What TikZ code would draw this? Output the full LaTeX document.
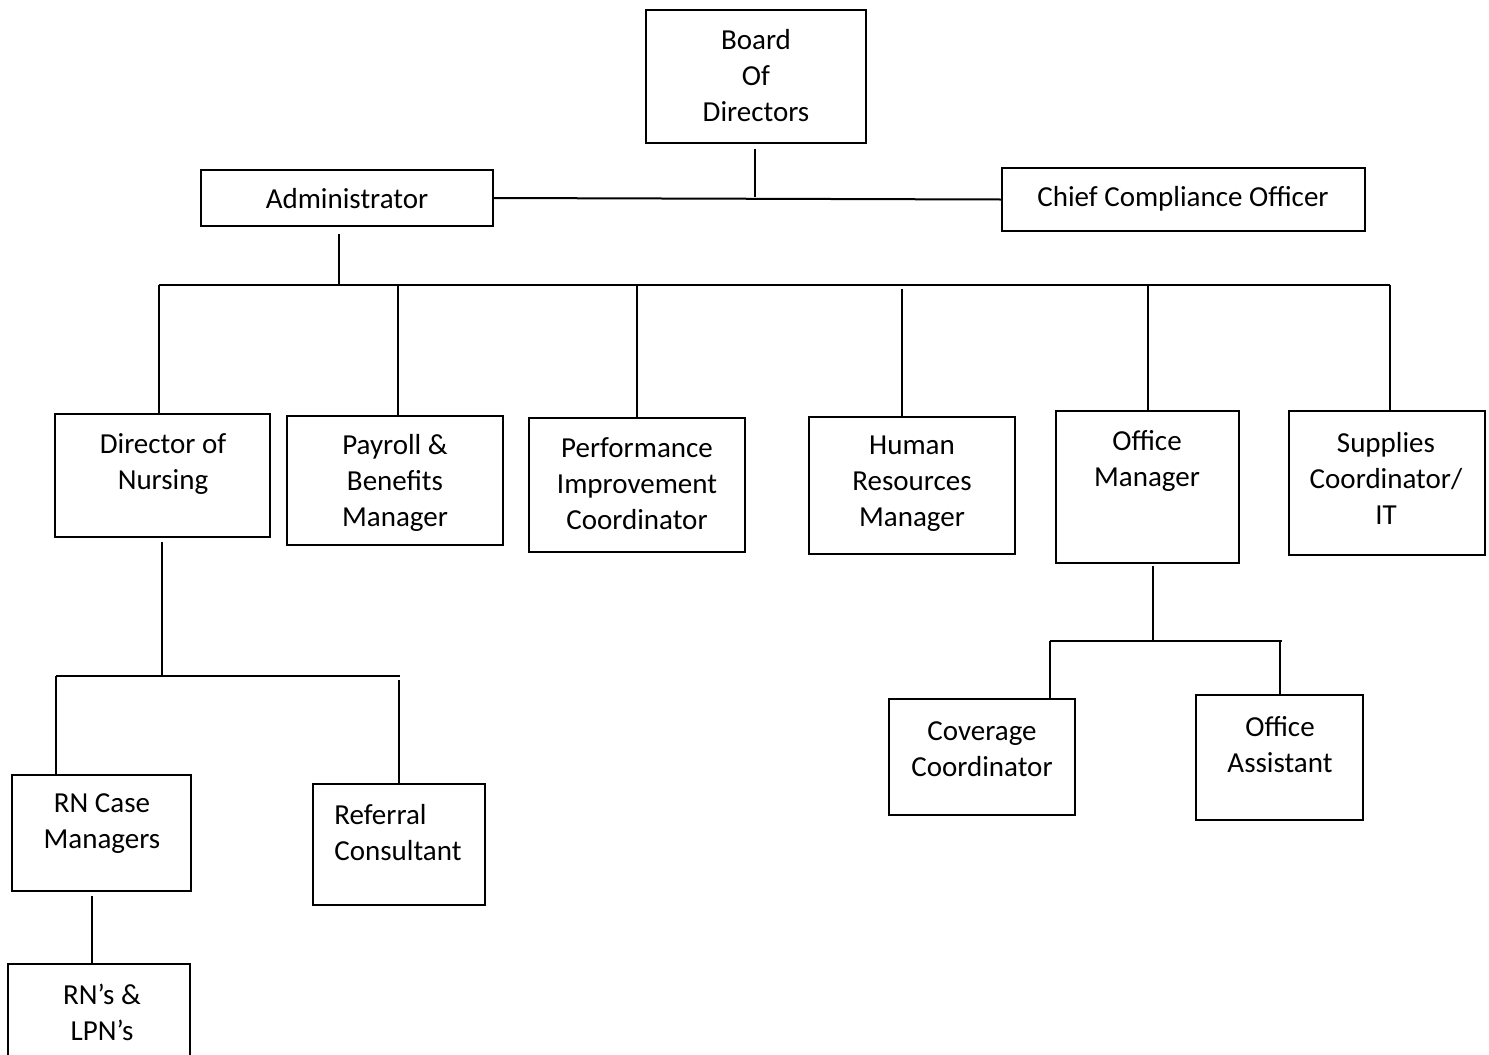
\documentclass[tikz,border=0pt]{standalone}
\usepackage{fontspec}
\setmainfont{Carlito}
\usetikzlibrary{fit}
\begin{document}
\begin{tikzpicture}[x=0.5pt,y=-0.5pt,
  box/.style={draw=black,line width=1pt,inner sep=0pt,rectangle},
  txt/.style={inner sep=0pt,align=center,font=\fontsize{14.5}{18}\selectfont},
  conn/.style={draw=black,line width=1pt}]
\useasboundingbox[fill=white] (0,0) rectangle (1489,1055);
% boxes
\node (board) [box, fit={(646,10) (866,143)}] {};
\node (admin) [box, fit={(201,170) (493,226)}] {};
\node (cco)   [box, fit={(1002,168) (1365,231)}] {};
\node (dir)   [box, fit={(55,414) (270,537)}] {};
\node (pay)   [box, fit={(287,416) (503,545)}] {};
\node (perf)  [box, fit={(529,418) (745,552)}] {};
\node (hr)    [box, fit={(809,417) (1015,554)}] {};
\node (om)    [box, fit={(1056,411) (1239,563)}] {};
\node (sup)   [box, fit={(1289,411) (1485,555)}] {};
\node (rnc)   [box, fit={(12,775) (191,891)}] {};
\node (ref)   [box, fit={(313,784) (485,905)}] {};
\node (rnl)   [box, fit={(8,964) (190,1075)}] {};
\node (cov)   [box, fit={(889,699) (1075,815)}] {};
\node (oa)    [box, fit={(1196,695) (1363,820)}] {};
% texts
\node (boardT) [txt] at (756,76) {Board\\Of\\Directors};
\node (adminT) [txt] at (347,199) {Administrator};
\node (ccoT)   [txt] at (1183,199) {Chief Compliance Officer};
\node (dirT)   [txt] at (163,464) {Director of\\Nursing};
\node (payT)   [txt] at (395,483) {Payroll \&\\Benefits\\Manager};
\node (perfT)  [txt] at (637,484) {Performance\\Improvement\\Coordinator};
\node (hrT)    [txt] at (912,484) {Human\\Resources\\Manager};
\node (omT)    [txt] at (1147,461) {Office\\Manager};
\node (supT)   [txt] at (1386,478) {Supplies\\Coordinator/\\IT};
\node (rncT)   [txt] at (102,824) {RN Case\\Managers};
\node (refT)   [txt,align=left,anchor=west] at (334,833) {Referral\\Consultant};
\node (rnlT)   [txt] at (102,1012) {RN’s \&\\LPN’s};
\node (covT)   [txt] at (982,749) {Coverage\\Coordinator};
\node (oaT)    [txt] at (1280,745) {Office\\Assistant};
% junction coordinates
\coordinate (j1) at (755,197);
\coordinate (bus) at (339,285);
\coordinate (busL) at (159,285);
\coordinate (busR) at (1390,285);
\coordinate (nbus) at (162,676);
\coordinate (nL) at (56,676);
\coordinate (nR) at (400,676);
\coordinate (rnd) at (92,930);
\coordinate (obus) at (1153,641);
\coordinate (oL) at (1050,641);
\coordinate (oR) at (1282,641);
% connectors
\draw[conn] ([yshift=-2.5pt]j1 |- board.south) -- (j1);
\draw[conn] (admin.east) -- (cco.west);
\draw[conn] ([yshift=-3.5pt]bus |- admin.south) -- (bus);
\draw[conn] (busL) -- (busR);
\draw[conn] (busL) -- (busL |- dir.north);
\draw[conn] ([xshift=1.5pt]pay.north) -- ([xshift=1.5pt]pay.north |- bus);
\draw[conn] (perf.north) -- (perf.north |- bus);
\draw[conn] ([xshift=-5pt]hr.north) -- ([xshift=-5pt,yshift=-2pt]hr.north |- bus);
\draw[conn] (om.north) -- (om.north |- bus);
\draw[conn] (busR) -- (busR |- sup.north);
\draw[conn] ([yshift=-2pt]nbus |- dir.south) -- (nbus);
\draw[conn] (nL) -- (nR);
\draw[conn] (nL) -- (nL |- rnc.north);
\draw[conn] ([yshift=-2pt]ref.north |- nR) -- (ref.north);
\draw[conn] ([yshift=-2pt]rnd |- rnc.south) -- (rnd |- rnl.north);
\draw[conn] ([yshift=-1pt]obus |- om.south) -- (obus);
\draw[conn] (oL) -- (oR);
\draw[conn] (oL) -- (oL |- cov.north);
\draw[conn] (oa.north |- oR) -- (oa.north);
\end{tikzpicture}
\end{document}
